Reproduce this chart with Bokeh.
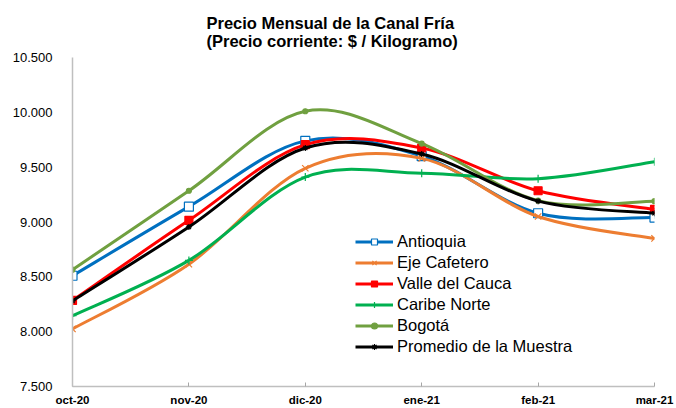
from bokeh.plotting import figure
from bokeh.models import Range1d, FixedTicker, Legend, LegendItem, ColumnDataSource
from bokeh.embed import file_html
from bokeh.resources import INLINE

months = ["oct-20", "nov-20", "dic-20", "ene-21", "feb-21", "mar-21"]
antioquia = [8510, 9140, 9740, 9600, 9080, 9040]
eje_cafetero = [8025, 8615, 9490, 9580, 9050, 8850]
valle_cauca = [8285, 9015, 9705, 9675, 9285, 9115]
caribe_norte = [8145, 8650, 9410, 9445, 9395, 9550]
bogota = [8565, 9285, 10010, 9715, 9195, 9190]
promedio = [8280, 8955, 9675, 9620, 9190, 9080]

y_ticks = [7500, 8000, 8500, 9000, 9500, 10000, 10500]
y_labels = ["7.500", "8.000", "8.500", "9.000", "9.500", "10.000", "10.500"]

series = [
    ("Antioquia", antioquia, "#0070C0", "square", 9, "white"),
    ("Eje Cafetero", eje_cafetero, "#ED7D31", "x", 9, "#ED7D31"),
    ("Valle del Cauca", valle_cauca, "#FF0000", "square", 8, "#FF0000"),
    ("Caribe Norte", caribe_norte, "#00B050", "cross", 8, "#00B050"),
    ("Bogotá", bogota, "#70A040", "circle", 5, "#70A040"),
    ("Promedio de la Muestra", promedio, "#000000", "asterisk", 6, "#000000"),
]

p = figure(width=676, height=408, output_backend="svg", toolbar_location=None,
           x_range=Range1d(0, 5), y_range=Range1d(7500, 10500),
           min_border_left=72, min_border_right=22, min_border_top=57, min_border_bottom=22)
p.outline_line_color = None
p.xgrid.visible = False
p.ygrid.visible = False

p.title.text = "Precio Mensual de la Canal Fría\n(Precio corriente: $ / Kilogramo)"
p.title.align = "left"
p.title.offset = 134
p.title.standoff = 15
p.title.text_font = "Liberation Sans"
p.title.text_font_size = "16.5px"
p.title.text_font_style = "bold"
p.title.text_color = "#000000"

xs = list(range(len(months)))
items = []
for name, vals, color, marker, size, fill in series:
    n = len(vals)
    x0, y0, x1, y1, cx0, cy0, cx1, cy1 = [], [], [], [], [], [], [], []
    for i in range(n - 1):
        ip = max(i - 1, 0)
        inn = min(i + 2, n - 1)
        x0.append(xs[i]); y0.append(vals[i])
        x1.append(xs[i + 1]); y1.append(vals[i + 1])
        cx0.append(xs[i] + (xs[i + 1] - xs[ip]) / 6)
        cy0.append(vals[i] + (vals[i + 1] - vals[ip]) / 6)
        cx1.append(xs[i + 1] - (xs[inn] - xs[i]) / 6)
        cy1.append(vals[i + 1] - (vals[inn] - vals[i]) / 6)
    src = ColumnDataSource(dict(x0=x0, y0=y0, x1=x1, y1=y1, cx0=cx0, cy0=cy0, cx1=cx1, cy1=cy1))
    r1 = p.bezier(x0="x0", y0="y0", x1="x1", y1="y1", cx0="cx0", cy0="cy0", cx1="cx1", cy1="cy1",
                  source=src, line_color=color, line_width=3)
    r2 = p.scatter(xs, vals, marker=marker, size=size, line_color=color, fill_color=fill, line_width=1.2)
    items.append(LegendItem(label=name, renderers=[r1, r2]))

legend = Legend(items=items, location=(283, 29), border_line_color=None,
                background_fill_alpha=0, padding=0, margin=0, spacing=0,
                label_height=21, glyph_height=15, glyph_width=38, label_standoff=4,
                label_text_font="Liberation Sans", label_text_font_size="16.5px",
                label_text_color="#000000")
p.add_layout(legend, "center")

p.xaxis.ticker = FixedTicker(ticks=xs)
p.xaxis.major_label_overrides = {i: m for i, m in enumerate(months)}
p.xaxis.minor_tick_line_color = None
p.xaxis.major_tick_in = 4
p.xaxis.major_tick_out = 0
p.xaxis.major_tick_line_color = "#A6A6A6"
p.xaxis.axis_line_color = "#BFBFBF"
p.xaxis.axis_line_width = 1.5
p.xaxis.major_label_standoff = 7
p.xaxis.major_label_text_font = "Liberation Sans"
p.xaxis.major_label_text_font_size = "11.5px"
p.xaxis.major_label_text_font_style = "bold"
p.xaxis.major_label_text_color = "#000000"

p.yaxis.ticker = FixedTicker(ticks=y_ticks)
p.yaxis.major_label_overrides = {t: l for t, l in zip(y_ticks, y_labels)}
p.yaxis.minor_tick_line_color = None
p.yaxis.major_tick_line_color = None
p.yaxis.major_tick_in = 0
p.yaxis.major_tick_out = 0
p.yaxis.axis_line_color = "#BFBFBF"
p.yaxis.axis_line_width = 1.5
p.yaxis.major_label_standoff = 20
p.yaxis.major_label_text_font = "Liberation Sans"
p.yaxis.major_label_text_font_size = "13px"
p.yaxis.major_label_text_color = "#000000"

open("out.html", "w").write(file_html(p, INLINE))
